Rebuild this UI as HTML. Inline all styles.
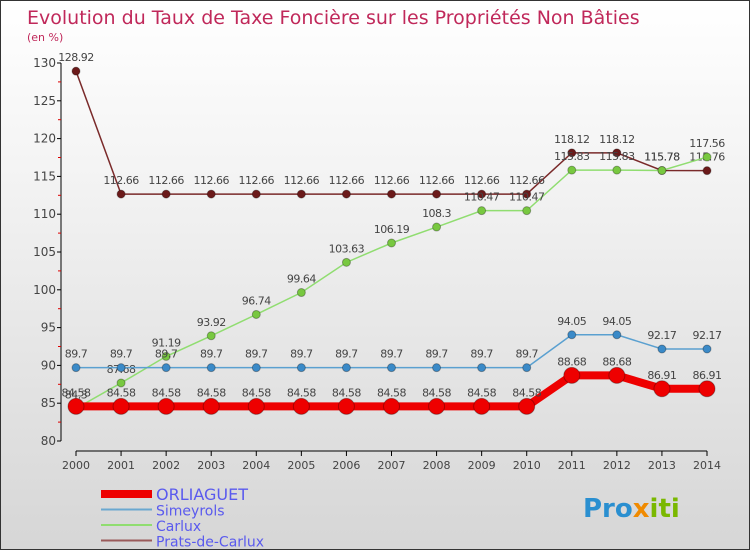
<!DOCTYPE html>
<html><head><meta charset="utf-8"><style>
body{margin:0}
#c{width:750px;height:550px;position:relative;overflow:hidden;box-sizing:border-box;border:1px solid #333;background:linear-gradient(#ffffff,#f4f4f4 30%,#d6d6d6);font-family:"DejaVu Sans","Liberation Sans",sans-serif}
</style></head><body>
<div id="c">
<svg width="750" height="550">
<text x="26" y="23" font-size="19" fill="#c0285a">Evolution du Taux de Taxe Foncière sur les Propriétés Non Bâties</text>
<text x="26" y="40" font-size="11" fill="#c0285a">(en %)</text>
<g id="axes"></g><g id="series"></g><g id="legend"></g>
<text x="582" y="516" font-size="26" font-weight="bold" fill="#2a8fd0">Pro<tspan fill="#f08a00">x</tspan><tspan fill="#7ab800">iti</tspan></text>
</svg>
</div>
<script>
const years=[2000,2001,2002,2003,2004,2005,2006,2007,2008,2009,2010,2011,2012,2013,2014];
const yTicks=[80,85,90,95,100,105,110,115,120,125,130];
const orliaguet=[84.58,84.58,84.58,84.58,84.58,84.58,84.58,84.58,84.58,84.58,84.58,88.68,88.68,86.91,86.91];
const simeyrols=[89.7,89.7,89.7,89.7,89.7,89.7,89.7,89.7,89.7,89.7,89.7,94.05,94.05,92.17,92.17];
const carlux=[84.3,87.68,91.19,93.92,96.74,99.64,103.63,106.19,108.3,110.47,110.47,115.83,115.83,115.78,117.56];
const prats=[128.92,112.66,112.66,112.66,112.66,112.66,112.66,112.66,112.66,112.66,112.66,118.12,118.12,115.78,115.76];
const NS="http://www.w3.org/2000/svg";
const X=i=>75+i*(706-75)/(years.length-1);
const Y=v=>440-(v-80)*(440-62)/50;
function mk(tag,at,parent){const e=document.createElementNS(NS,tag);for(const k in at)e.setAttribute(k,at[k]);parent.appendChild(e);return e;}
const ax=document.getElementById('axes');
let yl=mk('line',{x1:60,y1:62,x2:60,y2:440,stroke:'#000'},ax);

let xl=mk('line',{x1:75,y1:450,x2:706,y2:450,stroke:'#000'},ax);

yTicks.forEach(t=>{const y=Y(t);mk('line',{x1:56,y1:y,x2:60,y2:y,stroke:'#000'},ax);
 if(t<130)mk('line',{x1:57,y1:Y(t+2.5),x2:60,y2:Y(t+2.5),stroke:'#d00'},ax);
 const tx=mk('text',{x:55,y:y+4,'font-size':12,fill:'#444','text-anchor':'end'},ax);tx.textContent=t;
 });
years.forEach((yr,i)=>{mk('line',{x1:X(i),y1:450,x2:X(i),y2:455,stroke:'#000'},ax);
 const tx=mk('text',{x:X(i),y:468,'font-size':11,fill:'#444','text-anchor':'middle'},ax);tx.textContent=yr;
 });
const sg=document.getElementById('series');
function draw(name,data,color,lw,r,dot){const g=mk('g',{},sg);
 
 mk('polyline',{points:data.map((v,i)=>X(i)+','+Y(v)).join(' '),fill:'none',stroke:color,'stroke-width':lw},g);
 data.forEach((v,i)=>{const c=mk('circle',{cx:X(i),cy:Y(v),r:r,fill:dot,stroke:'rgba(0,0,0,0.3)'},g);
  
  const t=mk('text',{x:X(i),y:Y(v)-10,'font-size':11,fill:'#444','text-anchor':'middle','letter-spacing':'-0.5'},g);t.textContent=v;
  });}
draw('prats',prats,'#7a2a2a',1.5,4,'#6b1a1a');
draw('carlux',carlux,'#90dd70',1.5,4,'#78c840');
draw('simeyrols',simeyrols,'#5aa0d0',1.5,4,'#3a8ac8');
draw('orliaguet',orliaguet,'#ee0000',8,8,'#ee0000');
const lg=document.getElementById('legend');
[['ORLIAGUET','#ee0000',8,16],['Simeyrols','#6aa8d0',2,14],['Carlux','#90dd70',2,14],['Prats-de-Carlux','#9a5a5a',2,14]].forEach((d,i)=>{
 const y=493+i*15.5;const g=mk('g',{},lg);
 
 mk('line',{x1:100,y1:y,x2:151,y2:y,stroke:d[1],'stroke-width':d[2]},g);
 const t=mk('text',{x:155,y:y+6,'font-size':d[3],fill:'#5a5aee'},g);t.textContent=d[0];});
</script>
</body></html>
